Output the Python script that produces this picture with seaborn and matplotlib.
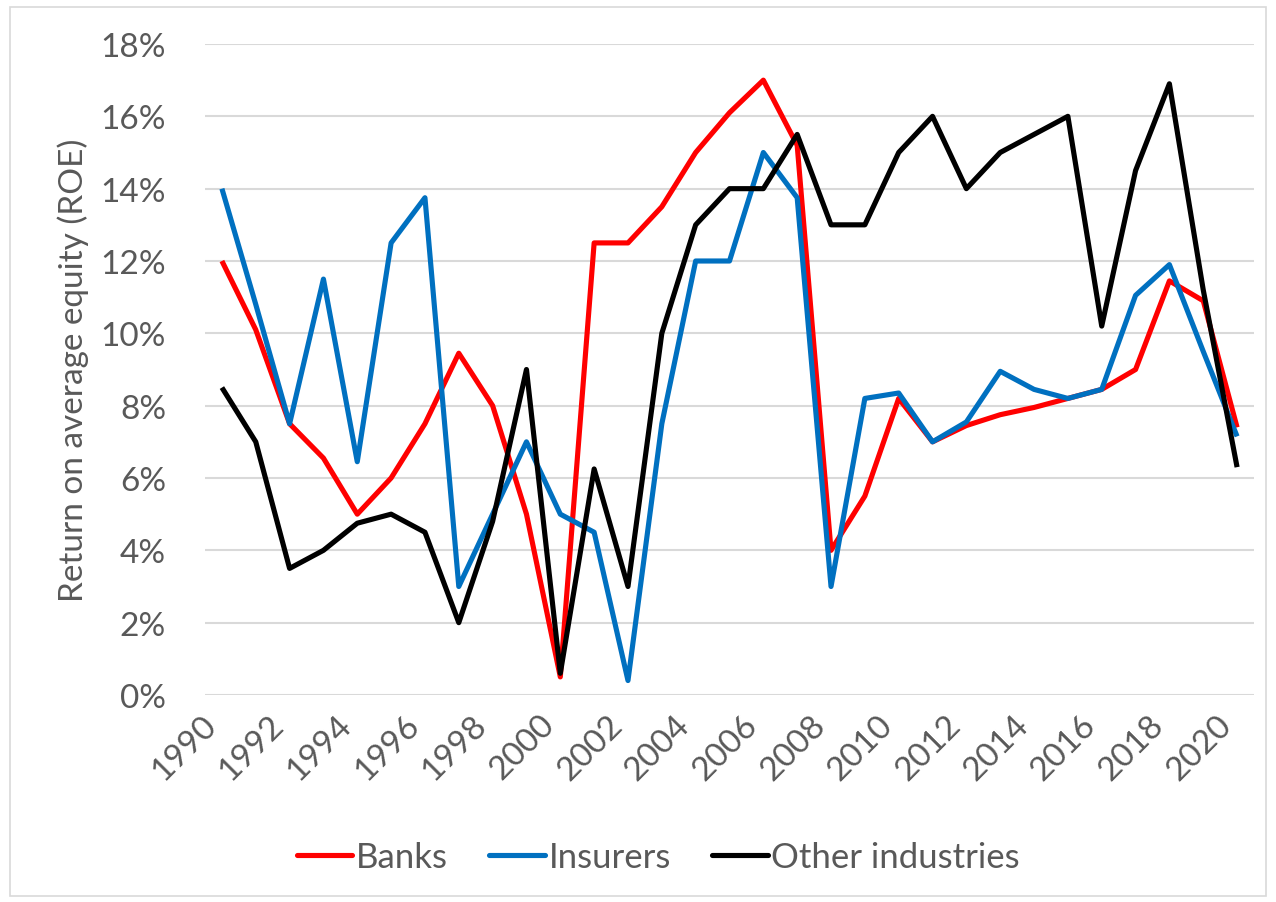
import numpy as np
import pandas as pd
import matplotlib
matplotlib.use("Agg")
import matplotlib.pyplot as plt
from matplotlib.patches import Rectangle
from matplotlib.ticker import FuncFormatter, MultipleLocator
import seaborn as sns

years = list(range(1990, 2021))
banks = [12.0, 10.1, 7.5, 6.55, 5.0, 6.0, 7.5, 9.45, 8.0, 5.0,
         0.5, 12.5, 12.5, 13.5, 15.0, 16.1, 17.0, 15.2, 4.0, 5.5,
         8.2, 7.0, 7.45, 7.75, 7.95, 8.2, 8.45, 9.0, 11.45, 10.9, 7.4]
insurers = [14.0, 10.8, 7.5, 11.5, 6.45, 12.5, 13.75, 3.0, 5.0, 7.0,
            5.0, 4.5, 0.4, 7.5, 12.0, 12.0, 15.0, 13.75, 3.0, 8.2,
            8.35, 7.0, 7.55, 8.95, 8.45, 8.2, 8.45, 11.05, 11.9, 9.5, 7.15]
others = [8.5, 7.0, 3.5, 4.0, 4.75, 5.0, 4.5, 2.0, 4.8, 9.0,
          0.6, 6.25, 3.0, 10.0, 13.0, 14.0, 14.0, 15.5, 13.0, 13.0,
          15.0, 16.0, 14.0, 15.0, 15.5, 16.0, 10.2, 14.5, 16.9, 11.2, 6.3]

series_names = ["Banks", "Insurers", "Other industries"]
series_colors = ["#FF0000", "#0070C0", "#000000"]
y_label = "Return on average equity (ROE)"

df = pd.DataFrame({
    "year": years * 3,
    "roe": [v / 100 for v in banks + insurers + others],
    "series": [series_names[0]] * len(years) + [series_names[1]] * len(years) + [series_names[2]] * len(years),
})

sns.set_theme(style="white")
plt.rcParams["font.family"] = ["Lato", "DejaVu Sans"]

W, H = 1276, 903
fig = plt.figure(figsize=(W / 100, H / 100), dpi=100)
ax = fig.add_axes([205 / W, (H - 696) / H, (1254 - 205) / W, (696 - 45) / H])

sns.lineplot(data=df, x="year", y="roe", hue="series", palette=series_colors,
             hue_order=series_names, linewidth=3.7, ax=ax, legend=False,
             solid_joinstyle="round", solid_capstyle="butt")

ax.set_xlim(1989.5, 2020.5)
ax.set_ylim(0, 0.18)
ax.yaxis.set_major_locator(MultipleLocator(0.02))
ax.yaxis.set_major_formatter(FuncFormatter(lambda v, p: f"{v*100:.0f}%"))
ax.set_xticks(list(range(1990, 2021, 2)))
ax.set_xticklabels([str(y) for y in range(1990, 2021, 2)], rotation=45,
                   ha="right", va="top")
ax.grid(axis="y", color="#D9D9D9", linewidth=1.5)
ax.grid(axis="x", visible=False)
ax.set_axisbelow(True)
for s in ax.spines.values():
    s.set_visible(False)
ax.tick_params(axis="both", length=0, labelsize=24, colors="#595959")
ax.tick_params(axis="y", pad=28)
ax.tick_params(axis="x", pad=10)
ax.set_xlabel("")
ax.set_ylabel(y_label, fontsize=24, color="#595959", labelpad=8)

handles = [plt.Line2D([0], [0], color=c, linewidth=3.7) for c in series_colors]
fig.legend(handles, series_names, loc="center", bbox_to_anchor=(0.516, 0.05),
           ncol=3, frameon=False, fontsize=25, handlelength=1.6,
           handletextpad=0.1, columnspacing=1.2, labelcolor="#595959")

fig.patches.append(Rectangle((10 / W, 6 / H), (1266 - 10) / W, (895 - 6) / H,
                             transform=fig.transFigure, fill=False,
                             edgecolor="#D9D9D9", linewidth=1.2))

fig.savefig("out.png", dpi=100, facecolor="white")
